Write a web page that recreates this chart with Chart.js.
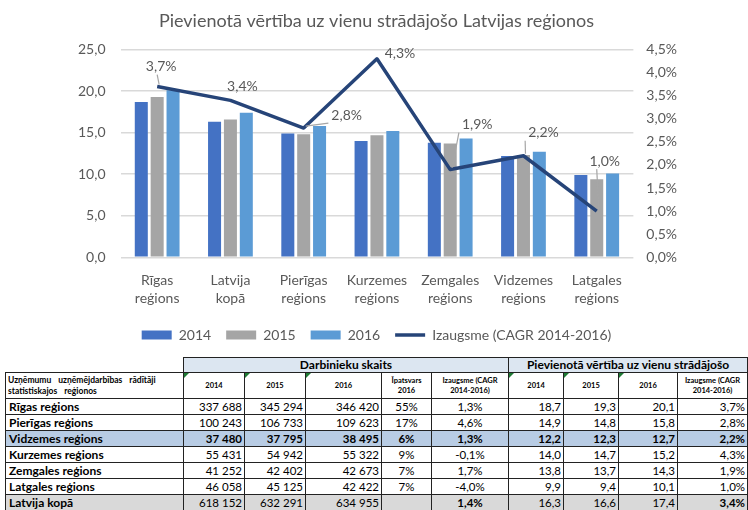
<!doctype html>
<html lang="lv">
<head>
  <meta charset="utf-8" />
  <title>Pievienotā vērtība uz vienu strādājošo</title>
  <script src="https://cdn.jsdelivr.net/npm/chart.js@4.4.1/dist/chart.umd.min.js"></script>
  <style>
    *{box-sizing:border-box;margin:0;padding:0}
    html,body{width:748px;height:510px;background:#fff;overflow:hidden}
    body{position:relative;font-family:Lato,"Open Sans",sans-serif}
    #wrap{position:absolute;left:0;top:0;width:748px;height:352px}
    #tbl{position:absolute;left:5px;top:357px;width:742px;border-collapse:collapse;table-layout:fixed;font-size:11.5px;color:#000}
    #tbl td{border:1px solid #222;padding:0 2px;white-space:nowrap;overflow:hidden;height:16px;line-height:14px}
    #tbl tr.h1 td{height:15px;font-size:12px;font-weight:bold;text-align:center;background:#dce6f1}
    #tbl tr.h1 td.blank{background:#fff;border-top:none;border-left:none}
    #tbl tr.h2 td{height:26px;font-size:7.5px;line-height:10px;font-weight:bold;text-align:center;white-space:normal;position:relative}
    #tbl tr.h2 td.corner{text-align:left;font-size:8.5px;word-spacing:5px;vertical-align:top;padding-top:2px;line-height:11px}
    #tbl tr.h2 td.g::before{content:"";position:absolute;left:0;top:0;border-top:5px solid #1e7a34;border-right:5px solid transparent}
    #tbl td.name{font-weight:bold;font-size:12px;text-align:left;padding-left:3px}
    #tbl td.num{text-align:right}
    #tbl td.mid{text-align:center}
    #tbl tr.hl td{background:#b8cce4;font-weight:bold}
    #tbl tr.tot td{background:#d9d9d9}
    #tbl tr.tot td.b{font-weight:bold}
  </style>
</head>
<body>
  <div id="wrap"><canvas id="chart"></canvas></div>
  <table id="tbl">
    <colgroup>
      <col style="width:178px"><col style="width:61px"><col style="width:61px"><col style="width:76px"><col style="width:50px">
      <col style="width:77px"><col style="width:55px"><col style="width:55px"><col style="width:59px"><col style="width:70px">
    </colgroup>
    <tbody id="tbody"></tbody>
  </table>

  <script>
    /* ===== chart data ===== */
    const regions = [['Rīgas','reģions'],['Latvija','kopā'],['Pierīgas','reģions'],['Kurzemes','reģions'],['Zemgales','reģions'],['Vidzemes','reģions'],['Latgales','reģions']];
    const value2014 = [18.7, 16.3, 14.9, 14.0, 13.8, 12.2, 9.9];
    const value2015 = [19.3, 16.6, 14.8, 14.7, 13.7, 12.3, 9.4];
    const value2016 = [20.1, 17.4, 15.8, 15.2, 14.3, 12.7, 10.1];
    const growth    = [3.7, 3.4, 2.8, 4.3, 1.9, 2.2, 1.0];

    /* ===== table data ===== */
    const rowNames    = ['Rīgas reģions','Pierīgas reģions','Vidzemes reģions','Kurzemes reģions','Zemgales reģions','Latgales reģions','Latvija kopā'];
    const workers2014 = [337688, 100243, 37480, 55431, 41252, 46058, 618152];
    const workers2015 = [345294, 106733, 37795, 54942, 42402, 45125, 632291];
    const workers2016 = [346420, 109623, 38495, 55322, 42673, 42422, 634955];
    const share2016   = [55, 17, 6, 9, 7, 7, null];
    const workersCagr = [1.3, 4.6, 1.3, -0.1, 1.7, -4.0, 1.4];
    const tab2014     = [18.7, 14.9, 12.2, 14.0, 13.8, 9.9, 16.3];
    const tab2015     = [19.3, 14.8, 12.3, 14.7, 13.7, 9.4, 16.6];
    const tab2016     = [20.1, 15.8, 12.7, 15.2, 14.3, 10.1, 17.4];
    const tabCagr     = [3.7, 2.8, 2.2, 4.3, 1.9, 1.0, 3.4];

    const dec1 = v => v.toFixed(1).replace('.', ',');
    const pct1 = v => dec1(v) + '%';
    const thou = n => String(n).replace(/\B(?=(\d{3})+(?!\d))/g, ' ');

    /* ===== table ===== */
    (function buildTable(){
      let h = '';
      h += '<tr class="h1"><td class="blank"></td><td colspan="5">Darbinieku skaits</td><td colspan="4">Pievienotā vērtība uz vienu strādājošo</td></tr>';
      h += '<tr class="h2"><td class="corner">Uzņēmumu uzņēmējdarbības rādītāji<br>statistiskajos reģionos</td>' +
           '<td class="g">2014</td><td class="g">2015</td><td class="g">2016</td><td>Īpatsvars<br>2016</td><td>Izaugsme (CAGR<br>2014-2016)</td>' +
           '<td class="g">2014</td><td class="g">2015</td><td class="g">2016</td><td>Izaugsme (CAGR<br>2014-2016)</td></tr>';
      rowNames.forEach((n, i) => {
        const cls = i === 2 ? 'hl' : (i === rowNames.length - 1 ? 'tot' : '');
        h += `<tr class="${cls}"><td class="name">${n}</td>` +
             `<td class="num">${thou(workers2014[i])}</td><td class="num">${thou(workers2015[i])}</td><td class="num">${thou(workers2016[i])}</td>` +
             `<td class="mid">${share2016[i] === null ? '' : share2016[i] + '%'}</td><td class="mid b">${pct1(workersCagr[i])}</td>` +
             `<td class="num">${dec1(tab2014[i])}</td><td class="num">${dec1(tab2015[i])}</td><td class="num">${dec1(tab2016[i])}</td>` +
             `<td class="num b">${pct1(tabCagr[i])}</td></tr>`;
      });
      document.getElementById('tbody').innerHTML = h;
    })();

    /* ===== line labels with leader lines ===== */
    const labelOffsets = [[4,-20],[12,-14],[43,-13],[23,-5],[27,-45],[20,-23],[8,-50]];
    const lineLabels = {
      id: 'lineLabels',
      afterDatasetsDraw(chart){
        const ctx = chart.ctx;
        const meta = chart.getDatasetMeta(3);
        ctx.save();
        ctx.font = '14px Lato, sans-serif';
        ctx.textAlign = 'center';
        ctx.textBaseline = 'middle';
        meta.data.forEach((pt, i) => {
          const txt = pct1(growth[i]);
          const lx = pt.x + labelOffsets[i][0], ly = pt.y + labelOffsets[i][1];
          const w = ctx.measureText(txt).width + 6, hh = 16;
          const ex = Math.min(Math.max(pt.x, lx - w/2), lx + w/2);
          const ey = Math.min(Math.max(pt.y, ly - hh/2), ly + hh/2);
          if (Math.hypot(ex - pt.x, ey - pt.y) > 9) {
            ctx.strokeStyle = '#a6a6a6';
            ctx.lineWidth = 1.2;
            ctx.beginPath();
            ctx.moveTo(pt.x + 2, pt.y - 2);
            ctx.lineTo(ex, ey);
            ctx.stroke();
          }
          ctx.fillStyle = '#595959';
          ctx.fillText(txt, lx, ly);
        });
        ctx.restore();
      }
    };

    const gray = '#595959';
    const tickFont = {family: 'Lato, sans-serif', size: 14};

    new Chart(document.getElementById('chart'), {
      type: 'bar',
      data: {
        labels: regions,
        datasets: [
          {label: '2014', data: value2014, backgroundColor: '#4472C4', yAxisID: 'y', order: 1, pointStyle: 'rect'},
          {label: '2015', data: value2015, backgroundColor: '#A5A5A5', yAxisID: 'y', order: 1, pointStyle: 'rect'},
          {label: '2016', data: value2016, backgroundColor: '#5B9BD5', yAxisID: 'y', order: 1, pointStyle: 'rect'},
          {type: 'line', label: 'Izaugsme (CAGR 2014-2016)', data: growth, yAxisID: 'y1', order: 0,
           borderColor: '#264478', backgroundColor: '#264478', borderWidth: 3.5, pointRadius: 0,
           pointStyle: 'line', tension: 0, borderJoinStyle: 'round'}
        ]
      },
      options: {
        responsive: true,
        maintainAspectRatio: false,
        animation: false,
        categoryPercentage: 0.65,
        barPercentage: 0.82,
        layout: {padding: {left: 63, right: 58, top: 0, bottom: 0}},
        plugins: {
          tooltip: {enabled: false},
          title: {
            display: true,
            text: 'Pievienotā vērtība uz vienu strādājošo Latvijas reģionos',
            color: gray,
            font: {family: 'Lato, sans-serif', size: 18, weight: 'normal'},
            padding: {top: 10, bottom: 18}
          },
          legend: {
            position: 'bottom',
            labels: {
              usePointStyle: true,
              pointStyleWidth: 30,
              boxHeight: 9,
              padding: 15,
              color: gray,
              font: tickFont,
              sort: (a, b) => a.datasetIndex - b.datasetIndex
            }
          }
        },
        scales: {
          x: {
            grid: {display: false, drawTicks: false},
            border: {display: false},
            ticks: {color: gray, font: {family: 'Lato, sans-serif', size: 14, lineHeight: 1.24}, padding: 15, maxRotation: 0},
            afterFit: s => { s.height -= 9; }
          },
          y: {
            position: 'left',
            min: 0, max: 25,
            grid: {color: '#d9d9d9', lineWidth: 1.5, drawTicks: false},
            border: {display: false},
            ticks: {stepSize: 5, color: gray, font: tickFont, padding: 15, callback: v => dec1(v)}
          },
          y1: {
            position: 'right',
            min: 0, max: 4.5,
            grid: {display: false, drawTicks: false},
            border: {display: false},
            ticks: {stepSize: 0.5, color: gray, font: tickFont, padding: 13, callback: v => pct1(v)}
          }
        }
      },
      plugins: [lineLabels]
    });
  </script>
</body>
</html>
